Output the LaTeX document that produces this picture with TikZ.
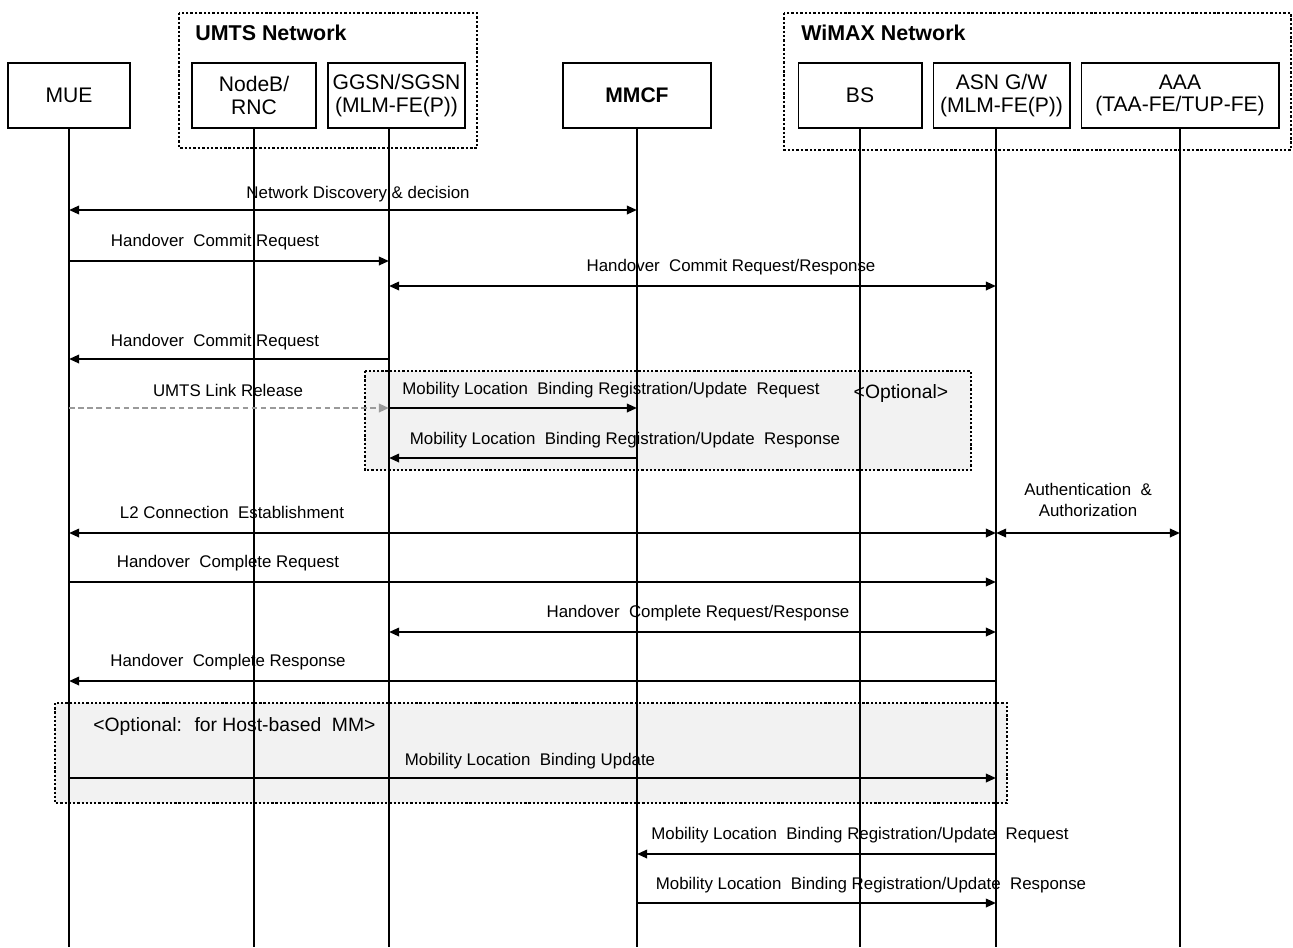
\documentclass[tikz,border=0pt]{standalone}
\usepackage{fontspec}
\setmainfont{Liberation Sans}
\usetikzlibrary{arrows.meta}
\definecolor{optfill}{HTML}{F2F2F2}
\definecolor{relgray}{HTML}{9A9A9A}
\begin{document}
\begin{tikzpicture}[x=0.02cm,y=-0.02cm,
  entity/.style={draw=black, line width=0.6pt, fill=white, inner sep=0pt,
    align=center, minimum height=1.3cm, font=\fontsize{12}{13}\selectfont},
  netbox/.style={draw=black, line width=1.4pt, dash pattern=on 1.4pt off 1.1pt},
  optbox/.style={draw=black, fill=optfill, line width=1.3pt, dash pattern=on 1.3pt off 1.1pt},
  netlabel/.style={font=\bfseries\fontsize{12.2}{14}\selectfont, anchor=west, inner sep=0pt},
  life/.style={line width=0.8pt},
  tip/.tip={Triangle[length=5.8pt,width=4.8pt]},
  msg/.style={line width=1.3pt, -tip},
  msgboth/.style={line width=1.3pt, tip-tip},
  release/.style={line width=1.3pt, draw=relgray, dash pattern=on 3.2pt off 2pt, -{Triangle[length=5.8pt,width=4.8pt,fill=relgray]}},
  lbl/.style={font=\fontsize{9.6}{11}\selectfont, inner sep=0pt},
  optlbl/.style={font=\fontsize{11}{13}\selectfont, inner sep=0pt}
]
\useasboundingbox (0,0) rectangle (1293,947);

% network domains
\draw[netbox, fill=white] (179,13) rectangle (477,148);
\draw[netbox, fill=white] (784,13) rectangle (1291,150);
\node[netlabel] (umts) at (195,33) {UMTS Network};
\node[netlabel] (wimax) at (801,33) {WiMAX Network};

% optional regions
\draw[optbox] (365,371) rectangle (971,470);
\draw[optbox] (55,703) rectangle (1007,803);

% entities
\node[entity, minimum width=2.44cm] (mue)   at (69,95.5)    {MUE};
\node[entity, minimum width=2.48cm] (nodeb) at (254,95.5)   {NodeB/\\RNC};
\node[entity, minimum width=2.74cm] (ggsn)  at (396.5,95.5) {GGSN/SGSN\\(MLM-FE(P))};
\node[entity, minimum width=2.96cm, font=\bfseries\fontsize{12}{13}\selectfont] (mmcf) at (637,95.5) {MMCF};
\node[entity, minimum width=2.48cm] (bs)    at (860,95.5)   {BS};
\node[entity, minimum width=2.74cm] (asn)   at (1001.5,95.5) {ASN G/W\\(MLM-FE(P))};
\node[entity, minimum width=3.96cm] (aaa)   at (1180,95.5)  {AAA\\(TAA-FE/TUP-FE)};

% lifeline tops
\coordinate (Lmue)   at (mue.south);
\coordinate (Lnodeb) at (nodeb.south);
\coordinate (Lggsn)  at (389,128);
\coordinate (Lmmcf)  at (mmcf.south);
\coordinate (Lbs)    at (bs.south);
\coordinate (Lasn)   at (996,128);
\coordinate (Laaa)   at (aaa.south);

\foreach \l in {Lmue,Lnodeb,Lggsn,Lmmcf,Lbs,Lasn,Laaa}
  \draw[life] (\l) -- (\l |- 0,947);

% messages
\draw[msgboth] (Lmue |- 0,210) -- (Lmmcf |- 0,210);
\node[lbl] (m1) at (358,194) {Network Discovery \& decision};

\draw[msg] (Lmue |- 0,261) -- (Lggsn |- 0,261);
\node[lbl] (m2) at (215,242) {Handover~ Commit Request};

\draw[msgboth] (Lggsn |- 0,286) -- (Lasn |- 0,286);
\node[lbl] (m3) at (731,267) {Handover~ Commit Request/Response};

\draw[msg] (Lggsn |- 0,359) -- (Lmue |- 0,359);
\node[lbl] (m4) at (215,342) {Handover~ Commit Request};

\draw[release] (Lmue |- 0,408) -- (Lggsn |- 0,408);
\node[lbl] (m5) at (228,390) {UMTS Link Release};

\draw[msg] (Lggsn |- 0,408) -- (Lmmcf |- 0,408);
\node[lbl] (m6) at (611,390) {Mobility Location~ Binding Registration/Update~ Request};
\node[optlbl] (opt1) at (901,393) {<Optional>};

\draw[msg] (Lmmcf |- 0,458) -- (Lggsn |- 0,458);
\node[lbl] (m7) at (625,440) {Mobility Location~ Binding Registration/Update~ Response};

\draw[msgboth] (Lmue |- 0,533) -- (Lasn |- 0,533);
\node[lbl] (m8) at (232,512) {L2 Connection~ Establishment};

\draw[msgboth] (Lasn |- 0,533) -- (Laaa |- 0,533);
\node[lbl, align=center, font=\fontsize{9.6}{12}\selectfont] (m9) at (1088,499.5) {Authentication~ \&\\Authorization};

\draw[msg] (Lmue |- 0,582) -- (Lasn |- 0,582);
\node[lbl] (m10) at (228,563) {Handover~ Complete Request};

\draw[msgboth] (Lggsn |- 0,632) -- (Lasn |- 0,632);
\node[lbl] (m11) at (698,613) {Handover~ Complete Request/Response};

\draw[msg] (Lasn |- 0,681) -- (Lmue |- 0,681);
\node[lbl] (m12) at (228,662) {Handover~ Complete Response};

\node[optlbl, anchor=west] (opt2) at (93,726) {<Optional:~ for Host-based~ MM>};
\draw[msg] (Lmue |- 0,778) -- (Lasn |- 0,778);
\node[lbl] (m13) at (530,761) {Mobility Location~ Binding Update};

\draw[msg] (Lasn |- 0,854) -- (Lmmcf |- 0,854);
\node[lbl] (m14) at (860,835) {Mobility Location~ Binding Registration/Update~ Request};

\draw[msg] (Lmmcf |- 0,903) -- (Lasn |- 0,903);
\node[lbl] (m15) at (871,885) {Mobility Location~ Binding Registration/Update~ Response};
\end{tikzpicture}
\end{document}
